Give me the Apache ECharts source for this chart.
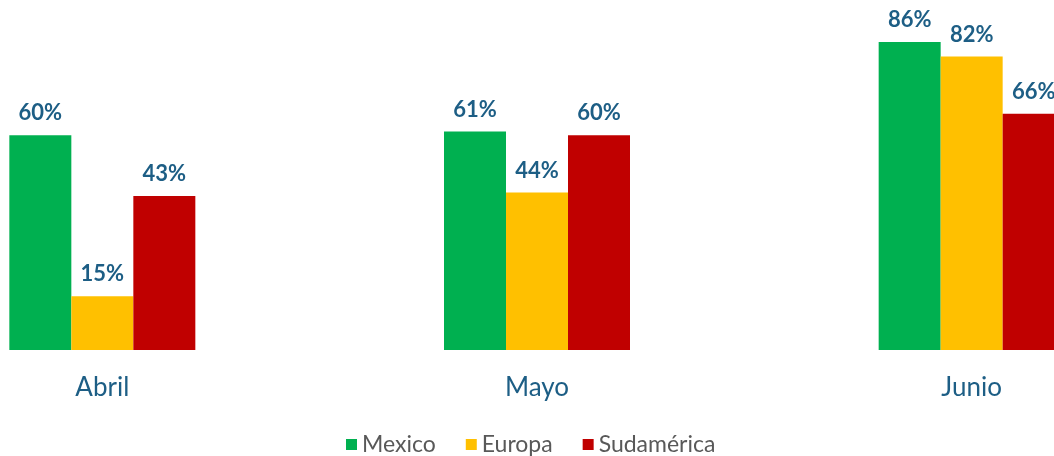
<!DOCTYPE html>
<html><head><meta charset="utf-8">
<script src="https://cdn.jsdelivr.net/npm/echarts@6/dist/echarts.min.js"></script>
<style>html,body{margin:0;padding:0;background:#fff;overflow:hidden;width:1054px;height:456px}
#c{position:absolute;left:-115px;top:-8px;width:1304px;height:464px}</style>
</head><body><div id="c"></div>
<script>
const categories = ['Abril', 'Mayo', 'Junio'];
const seriesNames = ['Mexico', 'Europa', 'Sudamérica'];
const mexico = [60, 61, 86];
const europa = [15, 44, 82];
const sudamerica = [43, 60, 66];
const colors = ['#00B050', '#FFC000', '#C00000'];

const FONT = 'Lato, "Open Sans", sans-serif';
const chart = echarts.init(document.getElementById('c'), null, {renderer: 'canvas'});
const labelStyle = {
  show: true, position: 'top', distance: 11,
  formatter: p => p.value + '%',
  color: '#1D5E85', fontWeight: 'bold', fontSize: 22, fontFamily: FONT
};
const mk = (name, data, color) => ({
  name, type: 'bar', data, barWidth: 62, barGap: '0%',
  itemStyle: {color}, label: labelStyle
});
chart.setOption({
  animation: false,
  color: colors,
  grid: {left: 0, right: 0, top: 0, bottom: 106, containLabel: false},
  legend: {
    bottom: -5, left: 456, itemWidth: 11, itemHeight: 11, itemGap: 30,
    icon: 'rect',
    textStyle: {color: '#595959', fontSize: 23, fontFamily: FONT},
    data: seriesNames
  },
  xAxis: {
    type: 'category', data: categories,
    axisLine: {show: false}, axisTick: {show: false},
    axisLabel: {color: '#1D5E85', fontSize: 26, margin: 25, fontFamily: FONT}
  },
  yAxis: {
    type: 'value', min: 0, max: 100, show: false, splitLine: {show: false}
  },
  series: [
    mk(seriesNames[0], mexico, colors[0]),
    mk(seriesNames[1], europa, colors[1]),
    mk(seriesNames[2], sudamerica, colors[2])
  ]
});
</script></body></html>
